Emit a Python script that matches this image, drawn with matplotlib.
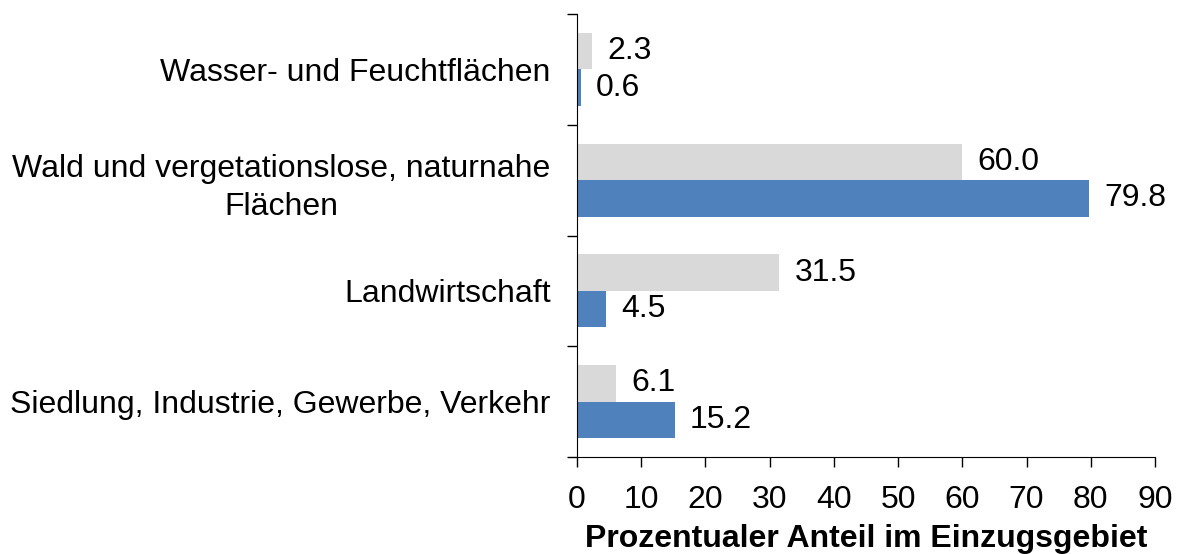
import matplotlib
matplotlib.use("Agg")
import matplotlib.pyplot as plt
import numpy as np

categories = ["Siedlung, Industrie, Gewerbe, Verkehr", "Landwirtschaft",
              "Wald und vergetationslose, naturnahe\nFlächen", "Wasser- und Feuchtflächen"]
grey_values = [6.1, 31.5, 60.0, 2.3]
blue_values = [15.2, 4.5, 79.8, 0.6]
xticks = [0, 10, 20, 30, 40, 50, 60, 70, 80, 90]

plt.rcParams['font.family'] = ['Liberation Sans', 'DejaVu Sans']
fs = 23

fig = plt.figure(figsize=(11.82, 5.54), dpi=100)
ax = fig.add_axes([577/1182, 1-457/554, (1155-577)/1182, (457-14)/554])

y = np.arange(len(categories))
h = 0.33
gb = ax.barh(y + h/2, grey_values, height=h, color='#D9D9D9')
bb = ax.barh(y - h/2, blue_values, height=h, color='#4F81BD')
ax.bar_label(gb, labels=[f"{v:.1f}" for v in grey_values], padding=11, fontsize=fs)
ax.bar_label(bb, labels=[f"{v:.1f}" for v in blue_values], padding=11, fontsize=fs)

ax.set_xlim(0, 90)
ax.set_ylim(-0.5, 3.5)
ax.set_xticks(xticks)
ax.set_xticklabels([str(t) for t in xticks], fontsize=fs)
ax.set_yticks(np.arange(-0.5, 4.0, 1.0))
ax.set_yticklabels([])
ax.set_yticks(y, minor=True)
ax.set_yticklabels(categories, minor=True, fontsize=fs)
for lbl in ax.get_yticklabels(minor=True):
    lbl.set_multialignment('center')
    lbl.set_linespacing(1.35)
ax.tick_params(axis='y', which='minor', length=0, pad=19)
ax.tick_params(axis='y', which='major', length=7, width=1)
ax.tick_params(axis='x', length=7, width=1, pad=13)
ax.spines['top'].set_visible(False)
ax.spines['right'].set_visible(False)
ax.set_xlabel("Prozentualer Anteil im Einzugsgebiet", fontsize=fs, fontweight='bold', labelpad=7)

fig.savefig("out.png", dpi=100)
